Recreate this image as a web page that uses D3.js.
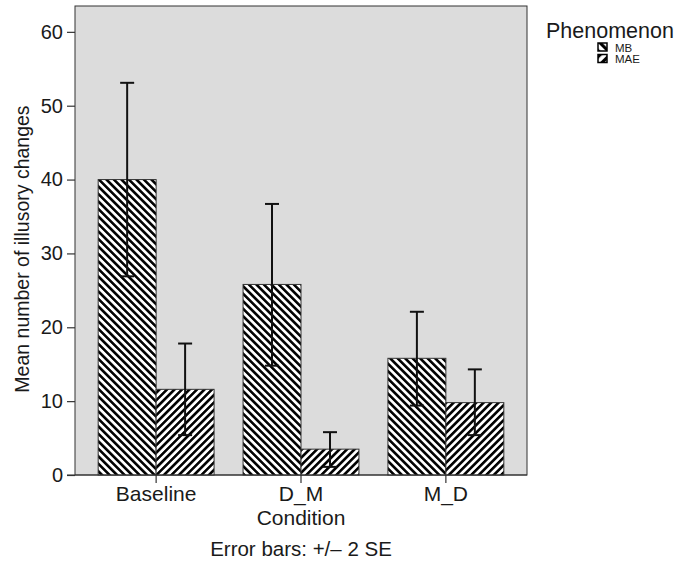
<!DOCTYPE html>
<html>
<head>
<meta charset="utf-8">
<script src="https://cdn.jsdelivr.net/npm/d3@7"></script>
<style>
  body { margin: 0; background: #fff; }
  text { font-family: "Liberation Sans", Arial, sans-serif; fill: #1a1a1a; }
</style>
</head>
<body>
<svg id="chart" width="682" height="562"></svg>
<script>
// data
var conditions = ["Baseline", "D_M", "M_D"];
var phenomena = ["MB", "MAE"];
var mb_means = [40.0, 25.8, 15.8];
var mb_low = [26.9, 14.8, 9.4];
var mb_high = [53.1, 36.7, 22.1];
var mae_means = [11.6, 3.5, 9.8];
var mae_low = [5.4, 1.1, 5.4];
var mae_high = [17.8, 5.8, 14.3];
var y_ticks = [0, 10, 20, 30, 40, 50, 60];

var rows = [];
conditions.forEach(function(c, i){
  rows.push({cond: c, phen: "MB", mean: mb_means[i], lo: mb_low[i], hi: mb_high[i]});
  rows.push({cond: c, phen: "MAE", mean: mae_means[i], lo: mae_low[i], hi: mae_high[i]});
});

var svg = d3.select("#chart");
var plot_left = 75, plot_right = 527, plot_top = 6, plot_bottom = 475;

// hatch patterns
var defs = svg.append("defs");
function hatch(id, angle, size, w){
  var p = defs.append("pattern")
    .attr("id", id)
    .attr("patternUnits", "userSpaceOnUse")
    .attr("width", size).attr("height", size)
    .attr("patternTransform", "rotate(" + angle + ")");
  p.append("rect").attr("width", size).attr("height", size).attr("fill", "#fff");
  p.append("rect").attr("width", w).attr("height", size).attr("fill", "#000");
}
hatch("hatch_MB", -45, 5.3, 2.6);
hatch("hatch_MAE", 45, 5.3, 2.6);
hatch("leg_MB", -45, 7, 3.2);
hatch("leg_MAE", 45, 7, 3.2);

var x = d3.scaleBand().domain(conditions).range([plot_left, plot_right])
  .paddingInner(0.2).paddingOuter(0.16);
var xs = d3.scaleBand().domain(phenomena).range([0, x.bandwidth()]);
var y = d3.scaleLinear().domain([0, 63.5]).range([plot_bottom, plot_top]);

// plot background
svg.append("rect")
  .attr("x", plot_left).attr("y", plot_top)
  .attr("width", plot_right - plot_left).attr("height", plot_bottom - plot_top)
  .attr("fill", "#dcdcdc").attr("stroke", "#333").attr("stroke-width", 1);

// bars
svg.selectAll(".bar")
  .data(rows)
  .enter()
  .append("rect")
  .attr("class", "bar")
  .attr("x", d => x(d.cond) + xs(d.phen))
  .attr("y", d => y(d.mean))
  .attr("width", xs.bandwidth())
  .attr("height", d => y(0) - y(d.mean))
  .attr("fill", d => "url(#hatch_" + d.phen + ")")
  .attr("stroke", "#333").attr("stroke-width", 1);

// error bars
var cap = 7;
function cx(d){ return x(d.cond) + xs(d.phen) + xs.bandwidth() / 2; }
var err = svg.selectAll(".err").data(rows).enter().append("g").attr("class", "err")
  .attr("stroke", "#111").attr("stroke-width", 2);
err.append("line")
  .attr("x1", cx).attr("x2", cx)
  .attr("y1", d => y(d.lo)).attr("y2", d => y(d.hi));
err.append("line")
  .attr("x1", d => cx(d) - cap).attr("x2", d => cx(d) + cap)
  .attr("y1", d => y(d.hi)).attr("y2", d => y(d.hi));
err.append("line")
  .attr("x1", d => cx(d) - cap).attr("x2", d => cx(d) + cap)
  .attr("y1", d => y(d.lo)).attr("y2", d => y(d.lo));

// axes
var yAxis = svg.append("g")
  .attr("transform", "translate(" + plot_left + ",0)")
  .call(d3.axisLeft(y).tickValues(y_ticks).tickSize(8).tickPadding(4));
yAxis.select(".domain").remove();
yAxis.selectAll("line").attr("stroke", "#333").attr("stroke-width", 1.2);
yAxis.selectAll("text").style("font-size", "20px").attr("fill", "#1a1a1a")
  .style("font-family", "Liberation Sans, Arial, sans-serif");

var xAxis = svg.append("g")
  .attr("transform", "translate(0," + plot_bottom + ")")
  .call(d3.axisBottom(x).tickSize(8).tickPadding(3));
xAxis.select(".domain").remove();
xAxis.selectAll("line").attr("stroke", "#333").attr("stroke-width", 1.2);
xAxis.selectAll("text").style("font-size", "21px").attr("fill", "#1a1a1a")
  .style("font-family", "Liberation Sans, Arial, sans-serif");

// baseline
svg.append("line")
  .attr("x1", plot_left - 8).attr("x2", plot_right)
  .attr("y1", y(0)).attr("y2", y(0))
  .attr("stroke", "#333").attr("stroke-width", 1.2);

// axis titles
svg.append("text")
  .attr("transform", "translate(29,249) rotate(-90)")
  .attr("text-anchor", "middle")
  .style("font-size", "19.5px")
  .text("Mean number of illusory changes");

svg.append("text")
  .attr("x", 301).attr("y", 525)
  .attr("text-anchor", "middle").style("font-size", "21px")
  .text("Condition");

svg.append("text")
  .attr("x", 301).attr("y", 556)
  .attr("text-anchor", "middle").style("font-size", "20.5px")
  .text("Error bars: +/\u2013 2 SE");

// legend
svg.append("text")
  .attr("x", 546).attr("y", 38)
  .style("font-size", "21.5px")
  .text("Phenomenon");

var leg = svg.selectAll(".leg").data(phenomena).enter().append("g").attr("class", "leg")
  .attr("transform", (d, i) => "translate(598," + (43 + i * 11.5) + ")");
leg.append("rect")
  .attr("width", 9).attr("height", 8)
  .attr("fill", d => "url(#leg_" + d + ")")
  .attr("stroke", "#000").attr("stroke-width", 1.5);
leg.append("text")
  .attr("x", 17).attr("y", 8.5)
  .style("font-size", "11.5px")
  .text(d => d);
</script>
</body>
</html>
